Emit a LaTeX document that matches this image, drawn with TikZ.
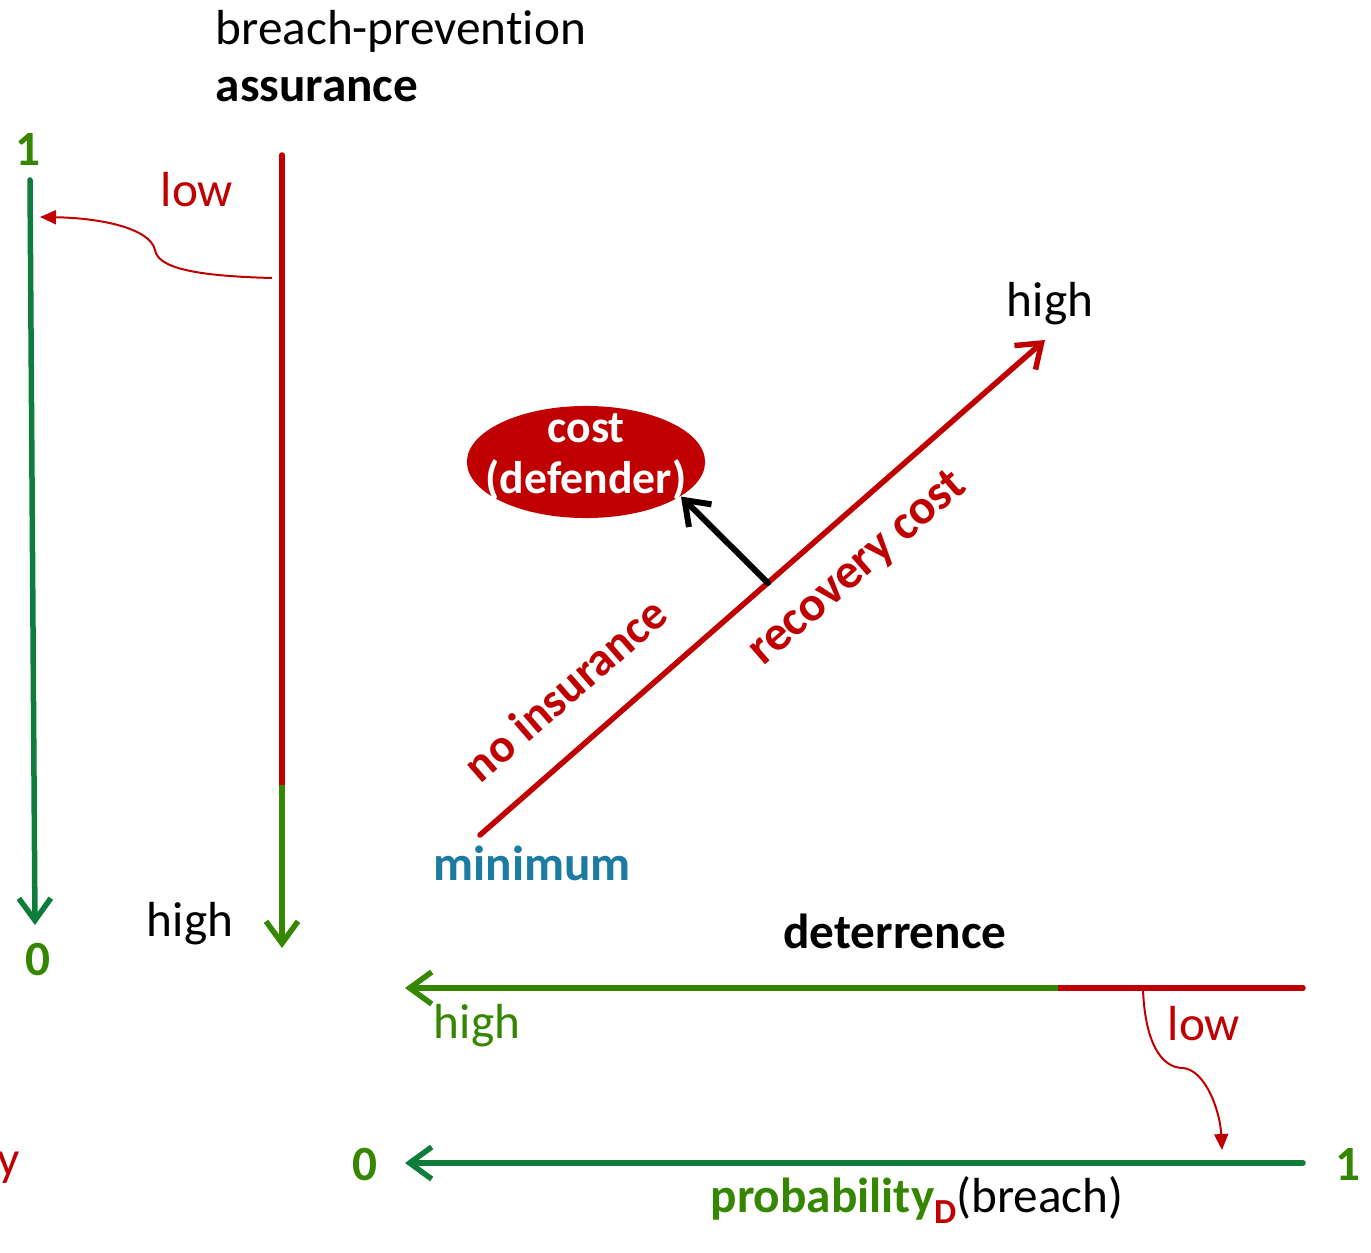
\documentclass[tikz,border=0pt]{standalone}
\usepackage{fontspec}
\setmainfont{Carlito}[Ligatures=NoCommon]
\usetikzlibrary{arrows.meta,shapes.geometric}
\definecolor{dred}{HTML}{C00000}
\definecolor{dgreen}{HTML}{0E7C3A}
\definecolor{lgreen}{HTML}{358600}
\definecolor{mincol}{HTML}{1C7BA2}
\tikzset{
  axis/.style={
    line width = 0.055cm,
    line cap = round
  },
  barb/.style={
    -{Straight Barb[length=0.22cm,width=0.32cm]}
  },
  thinarrow/.style={
    dred,
    line width = 0.02cm,
    -{Triangle[length=0.16cm,width=0.14cm]}
  },
  lbl/.style={
    inner sep = 0pt,
    font = \fontsize{14}{17}\selectfont
  },
  every picture/.style = {
    x=0.01cm,
    y=-0.01cm
  }
}
\begin{document}
\begin{tikzpicture}
            \useasboundingbox (0,0) rectangle (1371,1252);
            % left axis
            \coordinate (lt) at (30,180);
            \coordinate (lb) at (35,925);
            \draw[axis,barb,dgreen] (lt) -- (lb);
            \node[lbl,lgreen,anchor=base] (lone) at (28,166) {\bfseries 1};
            \node[lbl,lgreen,anchor=base] (lzero) at (38,975) {\bfseries 0};
            % assurance axis
            \node[lbl,anchor=base west] (bp) at (215,45) {breach-prevention};
            \node[lbl,anchor=base west] (as) at (215,102) {\bfseries assurance};
            \coordinate (at) at (282,155);
            \coordinate (am) at (282,785);
            \coordinate (ab) at (282,948);
            \draw[axis,dred] (at) -- (am);
            \draw[axis,barb,lgreen,line cap=butt] (am) -- (ab);
            \node[lbl,dred,anchor=base] (alow) at (197,207) {low};
            \node[lbl,anchor=base] (ahigh) at (190,936) {high};
            \coordinate (afrom) at (272,278);
            \coordinate (ato) at (40,217);
            \draw[thinarrow] (afrom) .. controls (195,276) and (158,268) .. (155,250)
                .. controls (150,228) and (100,218) .. (ato);
            % recovery cost
            \coordinate (dlo) at (480,835);
            \coordinate (dhi) at (1045,340);
            \coordinate (dmid) at (768,583);
            \draw[axis,barb,dred] (dlo) -- (dhi);
            \node[lbl,anchor=base] (dtop) at (1050,316) {high};
            \node[lbl,mincol,anchor=base] (dmin) at (532,880) {\bfseries minimum};
            \node[lbl,dred,rotate=41,font=\fontsize{13.5}{16}\selectfont] (noins) at (565,689) {\bfseries no insurance};
            \node[lbl,dred,rotate=41] (rcost) at (858,569) {\bfseries recovery cost};
            \node[shape=ellipse,fill=dred,inner sep=0pt,
                  minimum width=2.38cm,minimum height=1.12cm] (cost) at (586,462) {};
            \node[lbl,text=white,align=center,font=\fontsize{13}{14.5}\selectfont\bfseries]
                  (costtxt) at (586,457) {cost\\(defender)};
            \draw[axis,barb,black,line width=0.06cm] (dmid) -- (cost.-20);
            % deterrence axis
            \node[lbl,anchor=base] (det) at (895,948) {\bfseries deterrence};
            \coordinate (hr) at (1303,988);
            \coordinate (hm) at (1058,988);
            \coordinate (hl) at (405,988);
            \draw[axis,dred] (hr) -- (hm);
            \draw[axis,barb,lgreen,line cap=butt] (hm) -- (hl);
            \node[lbl,lgreen,anchor=base] (hhigh) at (477,1038) {high};
            \node[lbl,dred,anchor=base] (hlow) at (1204,1040) {low};
            \coordinate (hfrom) at (1143,990);
            \coordinate (hto) at (1222,1150);
            \draw[thinarrow] (hfrom) .. controls (1145,1040) and (1160,1068) .. (1183,1068)
                .. controls (1205,1070) and (1220,1110) .. (hto);
            % probability axis
            \coordinate (pr) at (1303,1163);
            \coordinate (pl) at (405,1163);
            \draw[axis,barb,dgreen] (pr) -- (pl);
            \node[lbl,lgreen,anchor=base] (pzero) at (365,1180) {\bfseries 0};
            \node[lbl,lgreen,anchor=base] (pone) at (1348,1180) {\bfseries 1};
            \node[lbl,anchor=base] (prob) at (917,1212)
                  {\textcolor{lgreen}{\bfseries probability}\raisebox{-0.5ex}{\fontsize{10}{11}\selectfont\bfseries\textcolor{dred}{D}}(breach)};
            \node[lbl,dred,anchor=base east] (cut) at (20,1175) {y};
\end{tikzpicture}
\end{document}
